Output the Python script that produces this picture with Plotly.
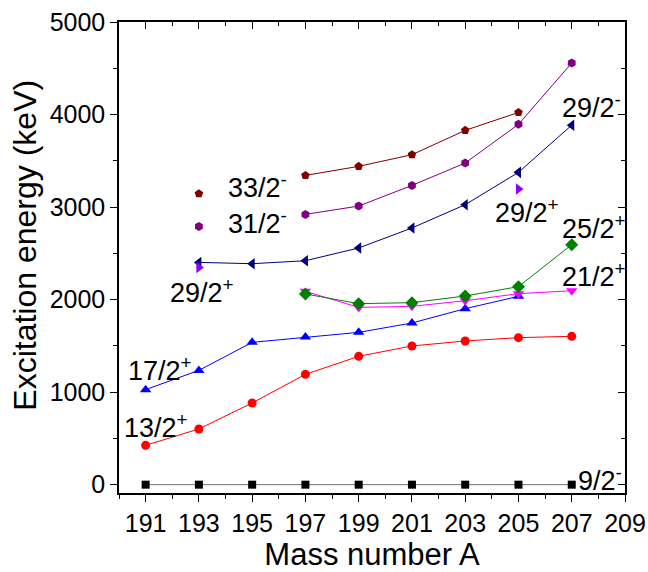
import plotly.graph_objects as go

A_all = [191, 193, 195, 197, 199, 201, 203, 205, 207]
e_9_2m = [0, 0, 0, 0, 0, 0, 0, 0, 0]
e_13_2p = [425, 602, 883, 1192, 1387, 1499, 1553, 1589, 1603]
A_17 = [191, 193, 195, 197, 199, 201, 203, 205]
e_17_2p = [1027, 1235, 1538, 1596, 1646, 1747, 1902, 2035]
A_21 = [197, 199, 201, 203, 205, 207]
e_21_2p = [2089, 1916, 1927, 1988, 2064, 2096]
e_25_2p = [2061, 1956, 1967, 2039, 2140, 2594]
A_29m = [193, 195, 197, 199, 201, 203, 205, 207]
e_29_2m = [2402, 2388, 2420, 2558, 2774, 3026, 3375, 3885]
A_29p = [193, 205]
e_29_2p = [2348, 3195]
A_31 = [193, 197, 199, 201, 203, 205, 207]
e_31_2m = [2791, 2921, 3011, 3234, 3476, 3894, 4557]
A_33 = [193, 197, 199, 201, 203, 205]
e_33_2m = [3145, 3342, 3440, 3566, 3829, 4023]

labels = ["9/2<sup>-</sup>", "13/2<sup>+</sup>", "17/2<sup>+</sup>", "21/2<sup>+</sup>", "25/2<sup>+</sup>",
          "29/2<sup>-</sup>", "29/2<sup>+</sup>", "29/2<sup>+</sup>", "31/2<sup>-</sup>", "33/2<sup>-</sup>"]
label_x = [207.15, 190.1, 190.25, 206.55, 206.55, 206.55, 191.85, 204.05, 194.0, 194.0]
label_y = [65, 638, 1253, 2269, 2788, 4088, 2096, 2961, 2842, 3231]

FONT = "Arial, Liberation Sans, sans-serif"
fig = go.Figure()

def add(x, y, color, symbol, size, line=True, lcolor=None):
    fig.add_trace(go.Scatter(
        x=x, y=y, mode="lines+markers" if line else "markers",
        line=dict(color=lcolor or color, width=1),
        marker=dict(color=color, symbol=symbol, size=size, line=dict(width=0)),
        showlegend=False, cliponaxis=False))

add(A_all, e_9_2m, "#000000", "square", 8, lcolor="#707070")
add(A_all, e_13_2p, "#FF0000", "circle", 9)
add(A_17, e_17_2p, "#0000FF", "triangle-up", 10)
add(A_21, e_21_2p, "#FF00FF", "triangle-down", 10)
add(A_21, e_25_2p, "#008000", "diamond", 10)
add(A_29m, e_29_2m, "#000080", "triangle-left", 10)
add(A_29p, e_29_2p, "#8B00FF", "triangle-right", 10, line=False)
add(A_31[1:], e_31_2m[1:], "#800080", "hexagon", 9)
add(A_31[:1], e_31_2m[:1], "#800080", "hexagon", 9, line=False)
add(A_33[1:], e_33_2m[1:], "#800000", "pentagon", 9)
add(A_33[:1], e_33_2m[:1], "#800000", "pentagon", 9, line=False)

# invisible trace for mirrored axes (top/right, inside ticks)
fig.add_trace(go.Scatter(x=[200], y=[2000], xaxis="x2", yaxis="y2", mode="markers",
                         marker=dict(opacity=0), showlegend=False, hoverinfo="skip"))

for t, x, y in zip(labels, label_x, label_y):
    fig.add_annotation(x=x, y=y, text=t, showarrow=False, xanchor="left", yanchor="middle",
                       font=dict(family=FONT, size=27, color="#000"))

# y-axis title (placed slightly above the plot centre, as in the reference)
fig.add_annotation(x=-0.186, y=0.527, xref="paper", yref="paper", text="Excitation energy (keV)",
                   textangle=-90, showarrow=False, xanchor="center", yanchor="middle",
                   font=dict(family=FONT, size=32, color="#000"))

xr = [190, 209]
yr = [-90, 5000]
common = dict(showline=True, linecolor="#000", linewidth=1.5, showgrid=False, zeroline=False,
              tickcolor="#000", tickwidth=1.2, automargin=False)
fig.update_layout(
    width=648, height=572,
    margin=dict(l=119, r=23, t=22, b=79),
    plot_bgcolor="white", paper_bgcolor="white",
    font=dict(family=FONT, size=25, color="#000"),
    xaxis=dict(range=xr, tick0=191, dtick=2, ticks="outside", ticklen=7,
               minor=dict(dtick=1, ticks="outside", ticklen=4, tickcolor="#000"),
               title=dict(text="Mass number A", font=dict(size=31), standoff=6),
               tickfont=dict(size=25), **common),
    yaxis=dict(range=yr, tick0=0, dtick=1000, ticks="outside", ticklen=7,
               minor=dict(dtick=500, ticks="outside", ticklen=4, tickcolor="#000"),
               tickfont=dict(size=25), **common),
    xaxis2=dict(range=xr, overlaying="x", side="top", anchor="y2", tick0=191, dtick=2,
                ticks="inside", ticklen=7, showticklabels=False,
                minor=dict(dtick=1, ticks="inside", ticklen=4, tickcolor="#000"), **common),
    yaxis2=dict(range=yr, overlaying="y", side="right", anchor="x2", tick0=0, dtick=1000,
                ticks="inside", ticklen=7, showticklabels=False,
                minor=dict(dtick=500, ticks="inside", ticklen=4, tickcolor="#000"), **common),
)

fig.write_html("out.html")
